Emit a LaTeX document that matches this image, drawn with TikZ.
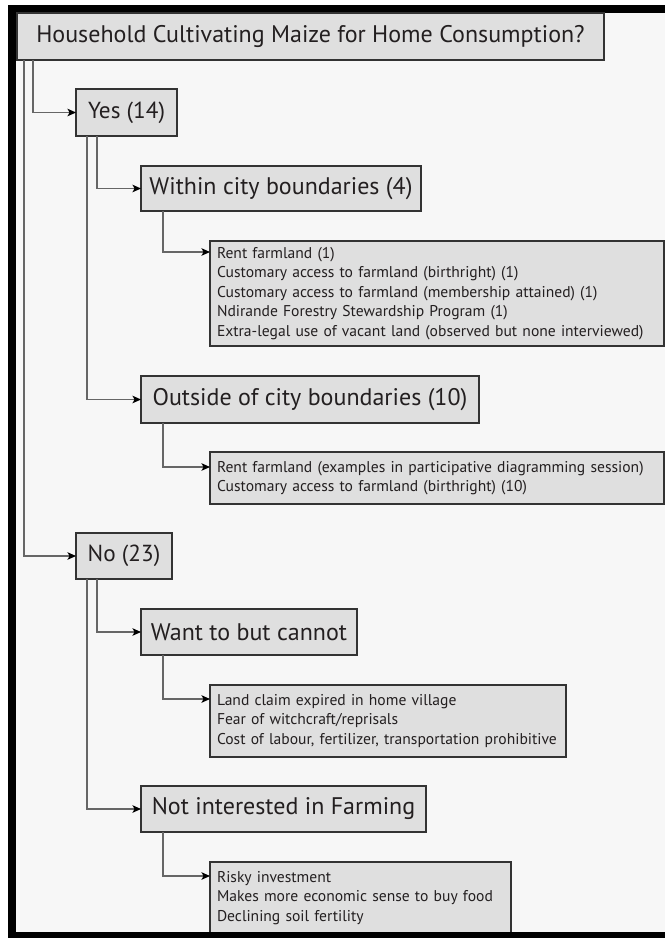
\documentclass[tikz,border=0pt]{standalone}
\usepackage{fontspec}
\setmainfont{PT Sans}
\usetikzlibrary{arrows.meta}
\definecolor{bg}{HTML}{F7F7F7}
\definecolor{boxfill}{HTML}{DFDFDF}
\definecolor{boxline}{HTML}{333333}
\definecolor{connline}{HTML}{666666}
\definecolor{txt}{HTML}{231F20}
\begin{document}
\begin{tikzpicture}[x=1pt,y=-1pt,
  box/.style={draw=boxline, line width=1.3pt, fill=boxfill, rectangle, anchor=north west,
    inner sep=0pt, outer sep=0pt, text=txt},
  rootbox/.style={box, font=\fontsize{24}{28}\selectfont},
  ansbox/.style={box, font=\fontsize{23.2}{27}\selectfont},
  catbox/.style={box, font=\fontsize{24}{28}\selectfont},
  listbox/.style={box, inner xsep=7pt, inner ysep=0pt, align=left,
    font=\fontsize{15.6}{19.6}\selectfont},
  conn/.style={draw=connline, line width=1.3pt,
    -{Stealth[length=8.5pt,width=7.5pt,inset=2pt,black]}}
]
\useasboundingbox (0,0) rectangle (665,938);
\fill[white] (0,0) rectangle (665,938);
\fill[black] (8,5) rectangle (665,938);
\fill[bg] (16,13) rectangle (665,932);

\node[rootbox, minimum width=587pt, minimum height=47pt] (root) at (17,13)
  {Household Cultivating Maize for Home Consumption?};
\node[ansbox, minimum width=101pt, minimum height=47pt] (yes) at (76,89) {Yes (14)};
\node[catbox, minimum width=280pt, minimum height=45pt] (within) at (141,166)
  {Within city boundaries (4)};
\node[listbox, text width=440pt, minimum height=105pt] (sub1) at (210,241)
  {Rent farmland (1)\\
   Customary access to farmland (birthright) (1)\\
   Customary access to farmland (membership attained) (1)\\
   Ndirande Forestry Stewardship Program (1)\\
   Extra-legal use of vacant land (observed but none interviewed)};
\node[catbox, minimum width=338pt, minimum height=47pt] (outside) at (141,376)
  {Outside of city boundaries (10)};
\node[listbox, text width=440pt, minimum height=52pt] (sub2) at (210,452)
  {Rent farmland (examples in participative diagramming session)\\
   Customary access to farmland (birthright) (10)};
\node[ansbox, minimum width=96pt, minimum height=46pt] (no) at (76,533) {No (23)};
\node[catbox, minimum width=216pt, minimum height=46pt] (want) at (141,609)
  {Want to but cannot};
\node[listbox, text width=342pt, minimum height=72pt] (sub3) at (210,685)
  {Land claim expired in home village\\
   Fear of witchcraft/reprisals\\
   \mbox{Cost of labour, fertilizer, transportation prohibitive}};
\node[catbox, minimum width=285pt, minimum height=46pt] (notint) at (141,786)
  {Not interested in Farming};
\node[listbox, text width=287pt, minimum height=72pt] (sub4) at (210,862)
  {Risky investment\\
   Makes more economic sense to buy food\\
   Declining soil fertility};

\draw[conn] ([xshift=16pt]root.south west) |- (yes.west);
\draw[conn] ([xshift=7pt]root.south west) |- (no.west);
\draw[conn] ([xshift=21pt]yes.south west) |- (within.west);
\draw[conn] ([xshift=11pt]yes.south west) |- (outside.west);
\draw[conn] ([xshift=22pt]within.south west) |- ([yshift=-11pt]sub1.north west);
\draw[conn] ([xshift=22pt]outside.south west) |- ([yshift=-15pt]sub2.north west);
\draw[conn] ([xshift=21pt]no.south west) |- (want.west);
\draw[conn] ([xshift=11pt]no.south west) |- (notint.west);
\draw[conn] ([xshift=22pt]want.south west) |- ([yshift=-14pt]sub3.north west);
\draw[conn] ([xshift=22pt]notint.south west) |- ([yshift=-14pt]sub4.north west);

\fill[black] (8,932) rectangle (665,938);
\end{tikzpicture}
\end{document}
